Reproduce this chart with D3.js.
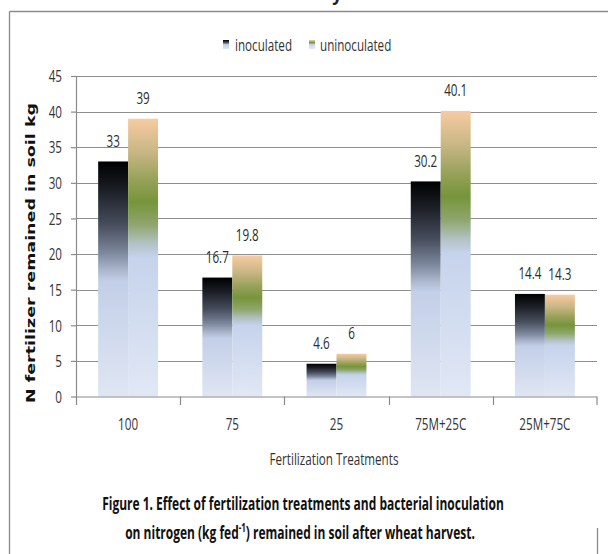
<!DOCTYPE html>
<html>
<head>
<meta charset="utf-8">
<script src="https://cdn.jsdelivr.net/npm/d3@7"></script>
<style>
  html, body { margin: 0; padding: 0; background: #fff; }
  svg { display: block; }
</style>
</head>
<body>
<svg id="chart" width="608" height="554"></svg>
<script>
// Fertilization treatments and the N remaining in soil (kg fed-1)
const categories = ["100", "75", "25", "75M+25C", "25M+75C"];
const seriesNames = ["inoculated", "uninoculated"];
const inoculated = [33, 16.7, 4.6, 30.2, 14.4];
const uninoculated = [39, 19.8, 6, 40.1, 14.3];
const yTicks = [0, 5, 10, 15, 20, 25, 30, 35, 40, 45];

const yTitle = "N fertilizer remained in soil kg";
const xTitle = "Fertilization Treatments";
const captionLine1 = "Figure 1. Effect of fertilization treatments and bacterial inoculation";
const captionLine2a = "on nitrogen (kg fed";
const captionSup = "-1";
const captionLine2b = ") remained in soil after wheat harvest.";

const svg = d3.select("#chart");
const LABEL_FONT = "'Open Sans', 'Noto Sans', sans-serif";
const LABEL_SIZE = 16;

// Narrow-looking text: draw with a regular face, then squeeze horizontally
function measure(str, family, size, weight) {
  const t = svg.append("text").attr("font-family", family).attr("font-size", size)
    .attr("font-weight", weight || "normal").text(str);
  const w = t.node().getComputedTextLength();
  t.remove();
  return w;
}
const squeeze = 57 / measure("inoculated", LABEL_FONT, LABEL_SIZE);
function condense(sel, k) {
  sel.each(function () {
    const w = this.getComputedTextLength();
    this.setAttribute("textLength", (w * k).toFixed(2));
    this.setAttribute("lengthAdjust", "spacingAndGlyphs");
  });
}

// Plot area
const plotLeft = 76, plotRight = 597, plotTop = 76, plotBottom = 396.5;

const x = d3.scaleBand().domain(categories).range([plotLeft, plotRight]).paddingInner(0).paddingOuter(0);
const xs = d3.scaleBand().domain(seriesNames).range([0, x.bandwidth()]).paddingInner(0).paddingOuter(0.74);
const y = d3.scaleLinear().domain([0, 45]).range([plotBottom, plotTop]);

// Gradient fills (per-bar, vertical)
const defs = svg.append("defs");
const gradients = {
  inoculated: [
    [0, "#000000"], [0.12, "#1b1e25"], [0.27, "#474e5d"], [0.39, "#7e899e"],
    [0.46, "#aab5cc"], [0.51, "#c3cfe8"], [1, "#dfe6f3"]
  ],
  uninoculated: [
    [0, "#f8cba1"], [0.12, "#c8b685"], [0.22, "#97a159"], [0.3, "#76953a"],
    [0.38, "#8fa56c"], [0.45, "#b3c2c6"], [0.5, "#c6d3ec"], [1, "#e1e8f5"]
  ]
};
Object.entries(gradients).forEach(([name, stops]) => {
  const g = defs.append("linearGradient").attr("id", "grad-" + name)
    .attr("x1", 0).attr("y1", 0).attr("x2", 0).attr("y2", 1);
  stops.forEach(([o, c]) => g.append("stop").attr("offset", o).attr("stop-color", c));
});

// Outer frame fragments
svg.append("line").attr("x1", 9.5).attr("y1", 11.5).attr("x2", 608).attr("y2", 11.5)
  .attr("stroke", "#8a8a8a").attr("stroke-width", 1.3);
svg.append("line").attr("x1", 9.5).attr("y1", 11.5).attr("x2", 9.5).attr("y2", 554)
  .attr("stroke", "#8a8a8a").attr("stroke-width", 1.3);
svg.append("line").attr("x1", 597.5).attr("y1", 528).attr("x2", 597.5).attr("y2", 554)
  .attr("stroke", "#8a8a8a").attr("stroke-width", 1.3);

// Tail of the text line above the frame
svg.append("text").attr("x", 337).attr("y", 1).attr("text-anchor", "middle")
  .attr("font-family", LABEL_FONT).attr("font-weight", "bold")
  .attr("font-size", 17).attr("fill", "#222").text("y");

// Y axis + ticks
const yAxis = d3.axisLeft(y).tickValues(yTicks).tickSize(5).tickPadding(9);
const gy = svg.append("g").attr("transform", `translate(${plotLeft},0)`).call(yAxis);
gy.select(".domain").attr("stroke", "#8a8a8a").attr("stroke-width", 1.2)
  .attr("d", `M0.5,${plotTop}V${plotBottom + 8.5}`);
gy.selectAll(".tick line").attr("stroke", "#8a8a8a").attr("stroke-width", 1.2);
gy.selectAll(".tick text").attr("font-family", LABEL_FONT).attr("font-size", LABEL_SIZE)
  .attr("fill", "#333").attr("dy", "0.36em").call(condense, squeeze);

// Gridlines
svg.append("g").selectAll("line").data(yTicks.filter(d => d > 0)).join("line")
  .attr("x1", plotLeft).attr("x2", plotRight)
  .attr("y1", d => Math.round(y(d)) + 0.5).attr("y2", d => Math.round(y(d)) + 0.5)
  .attr("stroke", "#8e8e8e").attr("stroke-width", 1.2);

// Bars
const rows = categories.map((c, i) => ({ cat: c, values: [
  { s: "inoculated", v: inoculated[i] },
  { s: "uninoculated", v: uninoculated[i] }
]}));

const groups = svg.append("g").selectAll("g").data(rows).join("g")
  .attr("transform", d => `translate(${x(d.cat)},0)`);

groups.selectAll("rect").data(d => d.values).join("rect")
  .attr("x", d => xs(d.s))
  .attr("y", d => y(d.v))
  .attr("width", xs.bandwidth())
  .attr("height", d => plotBottom - y(d.v))
  .attr("fill", d => `url(#grad-${d.s})`);

groups.selectAll("text").data(d => d.values).join("text")
  .attr("x", d => xs(d.s) + xs.bandwidth() / 2)
  .attr("y", d => y(d.v) - 14.5)
  .attr("text-anchor", "middle")
  .attr("font-family", LABEL_FONT).attr("font-size", LABEL_SIZE).attr("fill", "#2b2b2b")
  .text(d => d.v)
  .call(condense, squeeze);

// X axis
const xAxis = d3.axisBottom(x).tickSize(0).tickPadding(22);
const gx = svg.append("g").attr("transform", `translate(0,${plotBottom})`).call(xAxis);
gx.select(".domain").attr("stroke", "#8a8a8a").attr("stroke-width", 1.2)
  .attr("d", `M${plotLeft},0.5H${plotRight}`);
gx.selectAll(".tick text").attr("font-family", LABEL_FONT).attr("font-size", LABEL_SIZE)
  .attr("fill", "#333").call(condense, squeeze);
// category separators
const sepX = categories.slice(1).map(c => Math.round(x(c)) + 0.5).concat([plotRight]);
svg.append("g").selectAll("line").data(sepX).join("line")
  .attr("x1", d => d).attr("x2", d => d)
  .attr("y1", plotBottom).attr("y2", plotBottom + 8.5)
  .attr("stroke", "#8a8a8a").attr("stroke-width", 1.2);

// Axis titles
svg.append("text").attr("x", 334).attr("y", 465).attr("text-anchor", "middle")
  .attr("font-family", LABEL_FONT).attr("font-size", LABEL_SIZE).attr("fill", "#333")
  .text(xTitle).call(condense, squeeze);

svg.append("text")
  .attr("transform", "translate(35,253) rotate(-90)")
  .attr("text-anchor", "middle")
  .attr("font-family", "'DejaVu Sans', sans-serif").attr("font-weight", "bold")
  .attr("font-size", 13).attr("fill", "#111")
  .attr("textLength", 300).attr("lengthAdjust", "spacingAndGlyphs")
  .text(yTitle);

// Legend
const legendItems = [
  { s: "inoculated", sx: 223, tx: 235 },
  { s: "uninoculated", sx: 309, tx: 320 }
];
const lg = svg.append("g");
legendItems.forEach(it => {
  lg.append("rect").attr("x", it.sx).attr("y", 40).attr("width", 6).attr("height", 9)
    .attr("fill", `url(#grad-${it.s})`);
  lg.append("text").attr("x", it.tx).attr("y", 51)
    .attr("font-family", LABEL_FONT).attr("font-size", LABEL_SIZE).attr("fill", "#333")
    .text(it.s).call(condense, squeeze);
});

// Caption (two centred lines, bold, squeezed to the same width ratio)
const CAP_SIZE = 18;
const capK = 402 / measure(captionLine1, LABEL_FONT, CAP_SIZE, "bold");
const cap = svg.append("g").attr("font-family", LABEL_FONT)
  .attr("font-weight", "bold").attr("fill", "#111").attr("font-size", CAP_SIZE);
cap.append("g").attr("transform", `translate(303,510) scale(${capK},1)`)
  .append("text").attr("text-anchor", "middle").text(captionLine1);
const l2 = cap.append("g").attr("transform", `translate(300,539) scale(${capK},1)`)
  .append("text").attr("text-anchor", "middle");
l2.append("tspan").text(captionLine2a);
l2.append("tspan").attr("dy", -7).attr("font-size", 12).text(captionSup);
l2.append("tspan").attr("dy", 7).text(captionLine2b);
</script>
</body>
</html>
